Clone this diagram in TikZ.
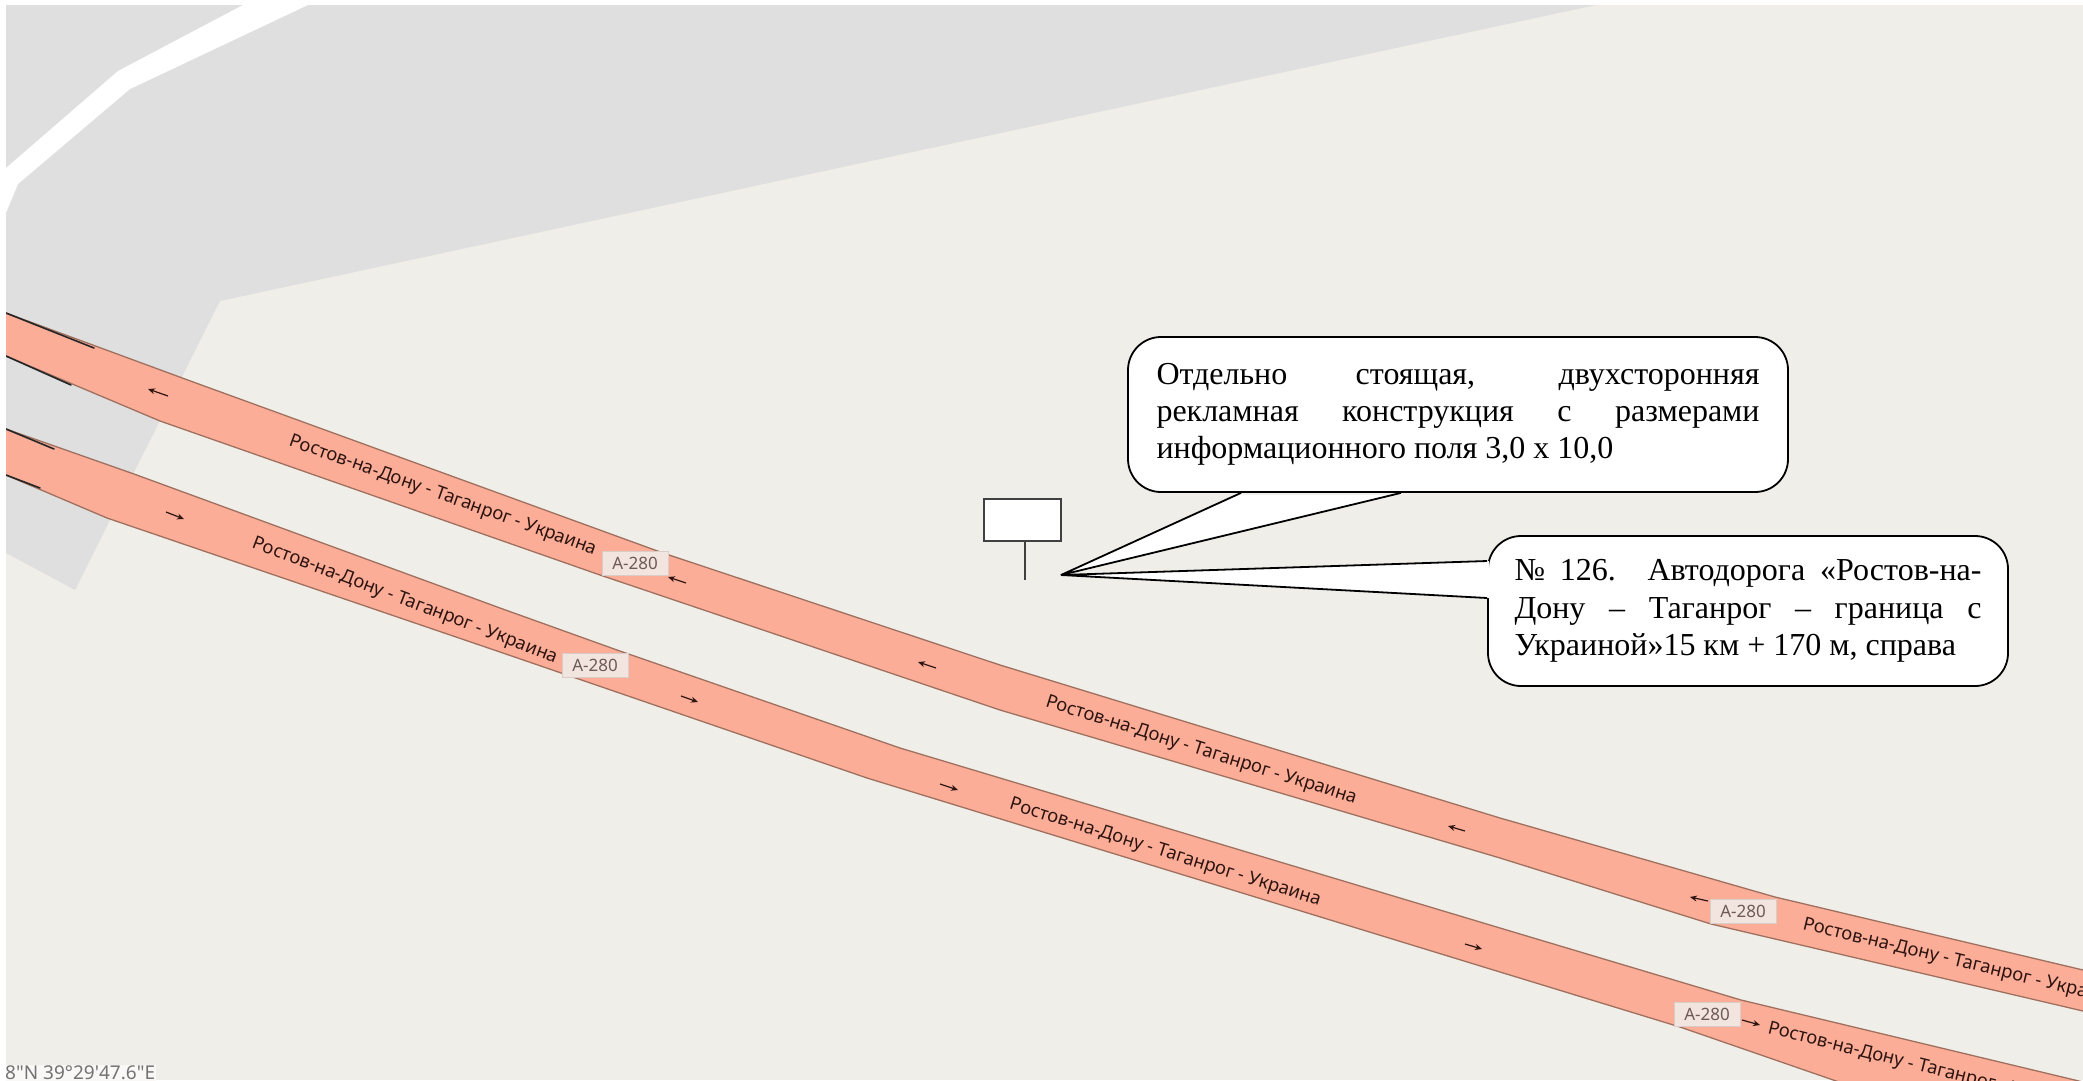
\documentclass[tikz,border=0pt]{standalone}
\usepackage{fontspec}
\setmainfont{Liberation Serif}
\newfontfamily\mapfont{Noto Sans}
\definecolor{mapbg}{HTML}{F0EEE8}
\definecolor{mapgray}{HTML}{DFDFDF}
\definecolor{roadfill}{HTML}{FBAD98}
\definecolor{roadedge}{HTML}{A0705F}
\definecolor{roadtext}{HTML}{2E1410}
\definecolor{shieldfill}{HTML}{F2E4DE}
\definecolor{shieldtext}{HTML}{6E5A58}
\usetikzlibrary{arrows.meta}
\tikzset{
  roadbody/.style={fill=roadfill,draw=none},
  roadline/.style={draw=roadedge,line width=1.3pt,line join=round},
  roaddark/.style={draw=black!85,line width=1.6pt,line cap=round},
  roadlabel/.style={font=\mapfont\fontsize{18.4}{21}\selectfont,text=roadtext,inner sep=0pt},
  shield/.style={fill=shieldfill,draw=shieldfill!90!black,line width=.5pt,minimum width=66pt,minimum height=24pt,inner sep=0pt,font=\mapfont\fontsize{17}{19}\selectfont,text=shieldtext},
  dirarrow/.style={draw=roadtext,line width=1.2pt,-{Stealth[length=7pt,width=6pt]}},
  callbox/.style={draw=black,fill=white,line width=1.8pt,rounded corners=33pt,inner sep=0pt,align=justify,font=\fontsize{32}{37.3}\selectfont},
  pointer/.style={draw=black,line width=1.8pt,line join=miter},
  mapsign/.style={draw=black!75,fill=white,line width=1.6pt,minimum width=77pt,minimum height=42pt,inner sep=0pt},
  mapcoord/.style={anchor=south west,inner sep=1pt,fill=white!60!mapbg,font=\mapfont\fontsize{19}{21}\selectfont,text=black!55}
}
\begin{document}
\begin{tikzpicture}[x=1pt,y=-1pt]
\useasboundingbox (0,0) rectangle (2083,1080);
\fill[white] (0,0) rectangle (2083,1080);
\begin{scope}
\clip (6,5) rectangle (2083,1080);
\fill[mapbg] (6,5) rectangle (2083,1080);
% grey area
\fill[mapgray] (6,5) -- (1596,5) -- (220,301) -- (75,590) -- (6,553) -- cycle;
% white road
\fill[white] (243,5) -- (118,71) -- (6,168) -- (6,213) -- (18,184) -- (130,89) -- (308,5) -- cycle;
% road 1
\fill[roadbody] (6,313) -- (185,379) -- (663,553) -- (1000,665) -- (1500,818) -- (1775,897) -- (2083,970) -- (2083,1011) -- (1711,924) -- (1500,858) -- (1000,710) -- (600,575) -- (160,421) -- (6,356) -- cycle;
\draw[roadline] (6,313) -- (185,379) -- (663,553) -- (1000,665) -- (1500,818) -- (1775,897) -- (2083,970);
\draw[roadline] (6,356) -- (160,421) -- (600,575) -- (1000,710) -- (1500,858) -- (1711,924) -- (2083,1011);
\draw[roaddark] (6,313) -- (94,348);
\draw[roaddark] (6,356) -- (71,385);
% road 2
\fill[roadbody] (6,429) -- (134,474) -- (500,608) -- (617,650) -- (900,748) -- (1500,928) -- (1741,1000) -- (2083,1082) -- (1839,1082) -- (1680,1027) -- (1500,972) -- (867,778) -- (500,652) -- (107,518) -- (6,475) -- cycle;
\draw[roadline] (6,429) -- (134,474) -- (500,608) -- (617,650) -- (900,748) -- (1500,928) -- (1741,1000) -- (2083,1082);
\draw[roadline] (6,475) -- (107,518) -- (500,652) -- (867,778) -- (1500,972) -- (1680,1027) -- (1839,1082);
\draw[roaddark] (6,429) -- (54,449);
\draw[roaddark] (6,475) -- (40,488);
% direction arrows, road 1 (towards the left)
\draw[dirarrow] (168,396) -- (148,389);
\draw[dirarrow] (686,583) -- (668,577);
\draw[dirarrow] (936,668) -- (918,662);
\draw[dirarrow] (1465,831) -- (1448,826);
\draw[dirarrow] (1708,901) -- (1690,897);
% direction arrows, road 2 (towards the right)
\draw[dirarrow] (166,512) -- (184,519);
\draw[dirarrow] (681,696) -- (698,702);
\draw[dirarrow] (940,784) -- (958,790);
\draw[dirarrow] (1465,944) -- (1482,949);
\draw[dirarrow] (1742,1020) -- (1760,1025);
% road labels
\node[roadlabel,rotate=-19.6] (lab1a) at (443,496) {Ростов-на-Дону - Таганрог - Украина};
\node[roadlabel,rotate=-17.4] (lab1b) at (1201,751) {Ростов-на-Дону - Таганрог - Украина};
\node[roadlabel,rotate=-13.5,anchor=west] (lab1c) at (1803,925) {Ростов-на-Дону - Таганрог - Украина};
\node[roadlabel,rotate=-20.8] (lab2a) at (405,601) {Ростов-на-Дону - Таганрог - Украина};
\node[roadlabel,rotate=-17.3] (lab2b) at (1165,853) {Ростов-на-Дону - Таганрог - Украина};
\node[roadlabel,rotate=-14,anchor=west] (lab2c) at (1768,1029) {Ростов-на-Дону - Таганрог - Украина};
% shields
\node[shield] (sh1) at (635,563) {А-280};
\node[shield] (sh2) at (595,665) {А-280};
\node[shield] (sh3) at (1743,911) {А-280};
\node[shield] (sh4) at (1707,1014) {А-280};
% coordinates
\node[mapcoord] (coords) at (4,1081) {8"N 39°29'47.6"E};
\end{scope}
% billboard
\coordinate (postfoot) at (1025,580);
\node[mapsign] (billboard) at (1022.5,520) {};
\draw[draw=black!75,line width=1.6pt] (billboard.south -| postfoot) -- (postfoot);
% callouts
\coordinate (tip) at (1061,575);
\node[callbox,text width=603pt,minimum width=660pt,minimum height=155pt] (box1) at (1458,414.5) {Отдельно стоящая, двухсторонняя\linebreak рекламная конструкция с размерами\linebreak информационного поля 3,0 х 10,0};
\node[callbox,text width=467pt,minimum width=520pt,minimum height=150pt] (box2) at (1748,611) {№ 126. Автодорога «Ростов-на-\linebreak Дону – Таганрог – граница с\linebreak Украиной»15 км + 170 м, справа};
\coordinate (a1) at (box1.south -| 1241,0);
\coordinate (b1) at (box1.south -| 1401,0);
\coordinate (a2) at (box2.west |- 0,561);
\coordinate (b2) at (box2.west |- 0,598);
\fill[white] (tip) -- (a1) -- ([yshift=-2pt]a1) -- ([yshift=-2pt]b1) -- (b1) -- cycle;
\draw[pointer] (a1) -- (tip) -- (b1);
\fill[white] (tip) -- (a2) -- ([xshift=2pt]a2) -- ([xshift=2pt]b2) -- (b2) -- cycle;
\draw[pointer] (a2) -- (tip) -- (b2);
\end{tikzpicture}
\end{document}
